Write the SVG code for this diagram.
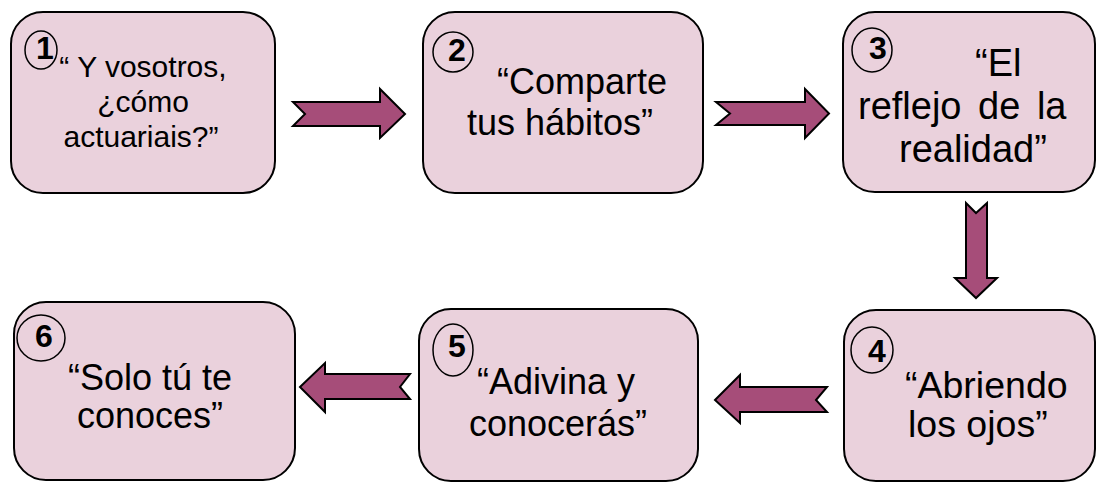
<svg xmlns="http://www.w3.org/2000/svg" width="1099" height="483" viewBox="0 0 1099 483">
<style>
.box{fill:#EAD1DC;stroke:#000;stroke-width:2}
.num{fill:none;stroke:#000;stroke-width:1.5}
.n{font-family:"Liberation Sans",Arial,sans-serif;font-weight:bold;font-size:32px;fill:#000;text-anchor:middle}
.t{font-family:"Liberation Sans",Arial,sans-serif;font-size:36px;fill:#000}
.t1{font-family:"Liberation Sans",Arial,sans-serif;font-size:30px;fill:#000;text-anchor:middle}
.arr{fill:#A64D79;stroke:#000;stroke-width:2;stroke-linejoin:miter}
</style>
<rect width="1099" height="483" fill="#fff"/>
<g id="node1">
<rect class="box" x="11" y="12" width="264" height="181" rx="32"/>
<ellipse class="num" cx="41" cy="50" rx="16" ry="19"/>
<text class="n" x="45" y="59">1</text>
<text class="t1" x="143" y="77">“ Y vosotros,</text>
<text class="t1" x="143" y="112">¿cómo</text>
<text class="t1" x="141" y="147">actuariais?”</text>
</g>
<g id="node2">
<rect class="box" x="423" y="12" width="280" height="181" rx="32"/>
<ellipse class="num" cx="453" cy="52" rx="20" ry="20"/>
<text class="n" x="457" y="61">2</text>
<text class="t" x="497" y="94">“Comparte</text>
<text class="t" x="467" y="135">tus hábitos”</text>
</g>
<g id="node3">
<rect class="box" x="843" y="12" width="252" height="180" rx="32"/>
<ellipse class="num" cx="872" cy="50" rx="20" ry="22"/>
<text class="n" x="878" y="59">3</text>
<text class="t" style="font-size:38px" x="975" y="76">“El</text>
<text class="t" style="font-size:38px" x="858" y="119" word-spacing="6">reflejo de la</text>
<text class="t" style="font-size:38px" x="899" y="162">realidad”</text>
</g>
<g id="node4">
<rect class="box" x="844" y="310" width="251" height="171" rx="32"/>
<ellipse class="num" cx="872" cy="350" rx="21" ry="23"/>
<text class="n" x="877" y="362">4</text>
<text class="t" style="font-size:37.5px" x="905" y="398">“Abriendo</text>
<text class="t" style="font-size:37.5px" x="908" y="437">los ojos”</text>
</g>
<g id="node5">
<rect class="box" x="419" y="309" width="279" height="172" rx="32"/>
<ellipse class="num" cx="453" cy="350" rx="20" ry="26"/>
<text class="n" x="457" y="357">5</text>
<text class="t" x="477" y="394">“Adivina y</text>
<text class="t" x="469" y="436">conocerás”</text>
</g>
<g id="node6">
<rect class="box" x="14" y="302" width="281" height="178" rx="32"/>
<ellipse class="num" cx="41" cy="338" rx="24" ry="23"/>
<text class="n" x="44" y="347">6</text>
<text class="t" x="68" y="390">“Solo tú te</text>
<text class="t" x="77" y="428">conoces”</text>
</g>
<g id="connectors">
<polygon class="arr" points="293,102 380,102 380,89 405,114 380,138 380,126 293,126 305,114"/>
<polygon class="arr" points="716,102 805,102 805,89 829,113.5 805,138 805,125 716,125 730,113.5"/>
<polygon class="arr" points="966,203 976,213 987,203 987,278 997,278 976,298 955,278 966,278"/>
<polygon class="arr" points="715,400 740,375 740,387 827,387 816,400 827,412 740,412 740,423"/>
<polygon class="arr" points="300,387 325,363 325,374 410,374 400,387 410,399 325,399 325,412"/>
</g>
</svg>
